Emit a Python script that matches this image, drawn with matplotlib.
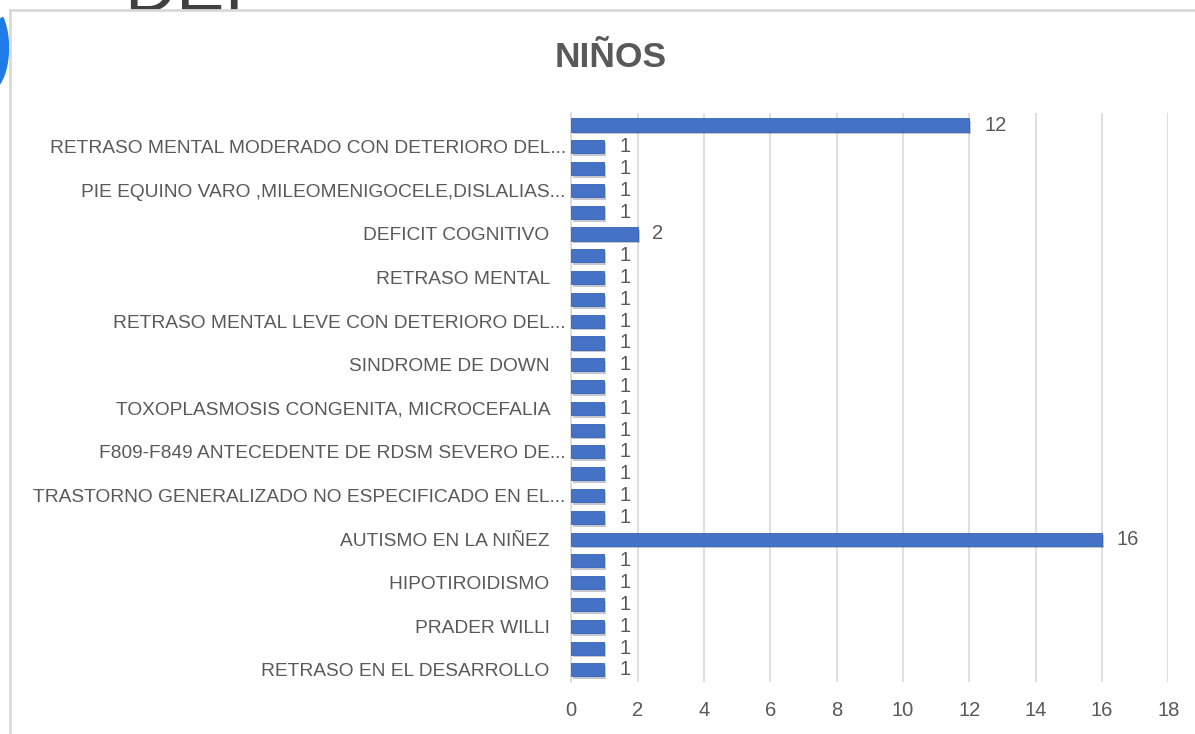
import matplotlib
matplotlib.use("Agg")
import matplotlib.pyplot as plt
from matplotlib import font_manager
from matplotlib.lines import Line2D
from matplotlib.patches import Arc
import matplotlib.patheffects as pe

# ── Data (bottom -> top, as the category axis is drawn) ─────────────────────
values = [1, 1, 1, 1, 1, 1, 16, 1, 1, 1, 1, 1, 1,
          1, 1, 1, 1, 1, 1, 1, 2, 1, 1, 1, 1, 12]
labels = [
    "RETRASO EN EL DESARROLLO", "",
    "PRADER WILLI", "",
    "HIPOTIROIDISMO", "",
    "AUTISMO EN LA NIÑEZ", "",
    "TRASTORNO GENERALIZADO NO ESPECIFICADO EN EL...", "",
    "F809-F849 ANTECEDENTE DE RDSM SEVERO DE...", "",
    "TOXOPLASMOSIS CONGENITA, MICROCEFALIA", "",
    "SINDROME DE DOWN", "",
    "RETRASO MENTAL LEVE CON DETERIORO DEL...", "",
    "RETRASO MENTAL", "",
    "DEFICIT COGNITIVO", "",
    "PIE EQUINO VARO ,MILEOMENIGOCELE,DISLALIAS...", "",
    "RETRASO MENTAL MODERADO CON DETERIORO DEL...", "",
]
x_ticks = [0, 2, 4, 6, 8, 10, 12, 14, 16, 18]
title = "NIÑOS"

# ── Style ────────────────────────────────────────────────────────────────────
installed = {f.name for f in font_manager.fontManager.ttflist}
family = "Liberation Sans Narrow" if "Liberation Sans Narrow" in installed else "Liberation Sans"
plt.rcParams["font.family"] = [family, "DejaVu Sans"]
GRAY = "#595959"
BLUE = "#4472C4"

fig = plt.figure(figsize=(11.95, 7.34), dpi=100)
ax = fig.add_axes([0.478, 0.071, 0.4996, 0.775])

pos = list(range(len(values)))
bars = ax.barh(pos, values, height=0.6, color=BLUE, edgecolor="#3562B5", lw=0.6, zorder=3)
for b in bars:
    b.set_path_effects([pe.SimplePatchShadow(offset=(1.5, -2), alpha=0.25), pe.Normal()])
for y, v in zip(pos, values):
    ax.text(v + 0.45, y, str(v), va="center", ha="left", fontsize=14.5, color=GRAY)

# labels that were not truncated sit a little further from the axis
shown = [lab if lab.endswith("...") or not lab else lab + "   " for lab in labels]

ax.set_xlim(0, 18)
ax.set_ylim(-0.55, len(values) - 0.45)
ax.set_xticks(x_ticks)
ax.set_yticks(pos)
ax.set_yticklabels(shown)
ax.tick_params(axis="y", length=0, pad=4, labelsize=13.8, labelcolor=GRAY)
ax.tick_params(axis="x", length=0, pad=14, labelsize=14.5, labelcolor=GRAY)
ax.grid(axis="x", color="#D9D9D9", lw=1.2, zorder=0)
for s in ("top", "right", "bottom"):
    ax.spines[s].set_visible(False)
ax.spines["left"].set_color("#D9D9D9")
ax.spines["left"].set_linewidth(1.2)

fig.text(0.511, 0.921, title, ha="center", va="center", fontsize=25.5,
         fontweight="bold", color=GRAY)

# chart frame and the cropped logo behind it
fig.text(0.104, 0.985, "DEI", ha="left", va="baseline", fontsize=52,
         color="#404040", zorder=0)
fig.add_artist(Arc((-0.012, 0.935), 0.03, 0.11, theta1=-90, theta2=75,
                   transform=fig.transFigure, color="#1E7BE8", lw=8, zorder=0))
fig.add_artist(Line2D([0.0085, 0.0085], [0.0, 0.987], transform=fig.transFigure,
                      color="#D9D9D9", lw=2))
fig.add_artist(Line2D([0.0085, 1.0], [0.987, 0.987], transform=fig.transFigure,
                      color="#D9D9D9", lw=2))

fig.savefig("out.png", dpi=100, facecolor="white")
